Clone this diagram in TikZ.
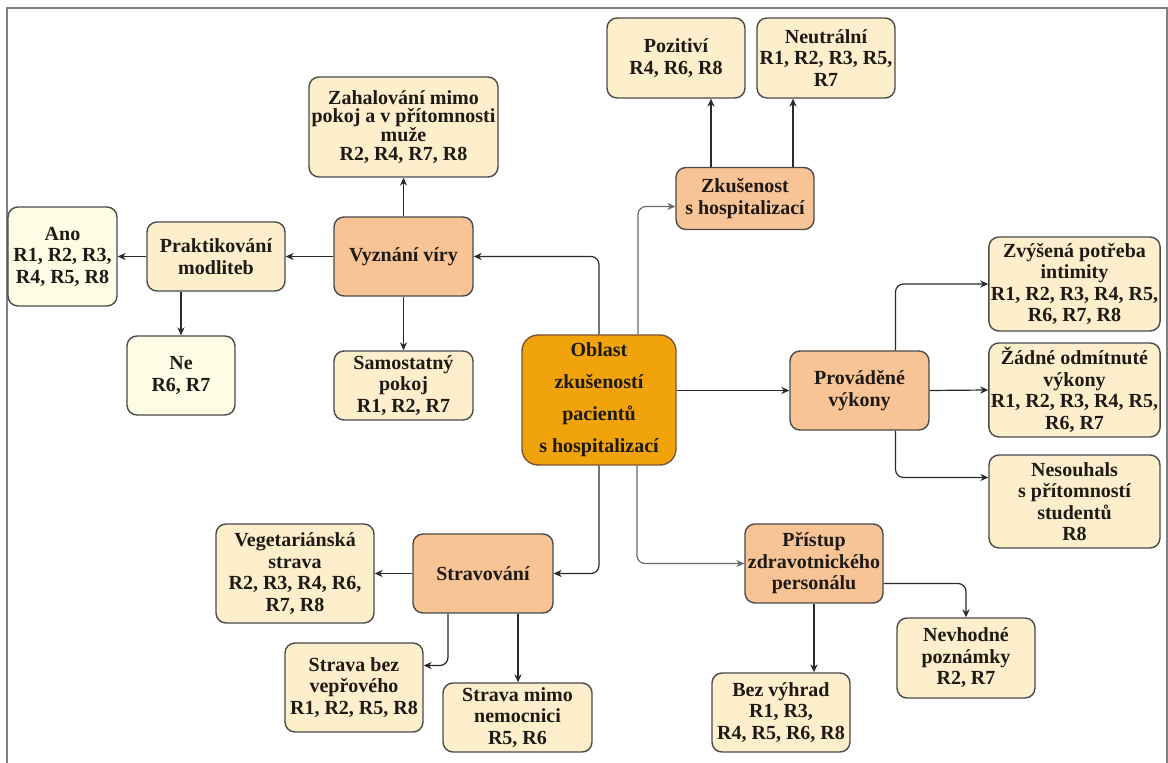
\documentclass[tikz,border=0pt]{standalone}
\usepackage{fontspec}
\setmainfont{Liberation Serif}
\usetikzlibrary{arrows.meta}

\begin{document}
\begin{tikzpicture}[x=0.5pt, y=-0.5pt,
    box/.style={draw=boxline, line width=0.7pt, rounded corners=5pt, align=center,
      text=textdark, inner sep=1pt, font=\fontsize{10}{10.75}\selectfont\bfseries},
    pale/.style={box, fill=paleyellow},
    leaf/.style={box, fill=leafyellow},
    topic/.style={box, fill=topicorange},
    hub/.style={box, fill=huborange, draw=hubline, rounded corners=8pt,
      font=\fontsize{10}{16}\selectfont\bfseries},
    link/.style={draw=linedark, line width=0.6pt, rounded corners=4pt,
      -{Stealth[length=4pt,width=3.6pt]}},
    greylink/.style={link, draw=linegrey}]
    \definecolor{paleyellow}{HTML}{FDFDE5}
    \definecolor{leafyellow}{HTML}{FDEFCB}
    \definecolor{topicorange}{HTML}{F8C496}
    \definecolor{huborange}{HTML}{F0A30A}
    \definecolor{hubline}{HTML}{7A5530}
    \definecolor{boxline}{HTML}{4A4A4A}
    \definecolor{textdark}{HTML}{1E1A16}
    \definecolor{linedark}{HTML}{2A2A2A}
    \definecolor{linegrey}{HTML}{6A6A6A}
    \definecolor{framegrey}{HTML}{808080}
    \useasboundingbox (0,0) rectangle (1168,763);
    \draw[framegrey, line width=1pt] (7,763) -- (7,8) -- (1167,8) -- (1167,763);

    \node[hub, minimum width=77pt, minimum height=65pt] (oblast) at (599,400)
      {Oblast\\zkušeností\\pacientů\\s hospitalizací};

    \node[topic, minimum width=69.5pt, minimum height=39.5pt] (vyz) at (403.5,256.5) {Vyznání víry};
    \node[leaf, minimum width=94.5pt, minimum height=50pt, font=\fontsize{10}{9.4}\selectfont\bfseries]
      (zah) at (403.5,127) {Zahalování mimo\\pokoj a v přítomnosti\\muže\\R2, R4, R7, R8};
    \node[leaf, minimum width=69.5pt, minimum height=34.5pt] (samo) at (403.5,385.5) {Samostatný\\pokoj\\R1, R2, R7};
    \node[leaf, minimum width=69pt, minimum height=34.5pt] (prak) at (216,256.5) {Praktikování\\modliteb};
    \node[pale, minimum width=54.5pt, minimum height=49.5pt] (ano) at (62.5,256.5) {Ano\\R1, R2, R3,\\R4, R5, R8};
    \node[pale, minimum width=54pt, minimum height=39.5pt] (ne) at (181,375.5) {Ne\\R6, R7};

    \node[topic, minimum width=69pt, minimum height=31pt] (zku) at (745,198.5) {Zkušenost\\s hospitalizací};
    \node[leaf, minimum width=69pt, minimum height=40pt] (poz) at (676,58) {Pozitiví\\R4, R6, R8};
    \node[leaf, minimum width=69pt, minimum height=40pt] (neu) at (826,58) {Neutrální\\R1, R2, R3, R5,\\R7};

    \node[topic, minimum width=69.5pt, minimum height=39.5pt] (prov) at (859.5,390.5) {Prováděné\\výkony};
    \node[leaf, minimum width=85.5pt, minimum height=47pt] (zvy) at (1074.5,284) {Zvýšená potřeba\\intimity\\R1, R2, R3, R4, R5,\\R6, R7, R8};
    \node[leaf, minimum width=85.5pt, minimum height=47pt] (zad) at (1074.5,390) {Žádné odmítnuté\\výkony\\R1, R2, R3, R4, R5,\\R6, R7};
    \node[leaf, minimum width=85.5pt, minimum height=46.5pt] (nes) at (1074.5,501.5) {Nesouhals\\s přítomností\\studentů\\R8};

    \node[topic, minimum width=70pt, minimum height=39.5pt] (strav) at (483,573.5) {Stravování};
    \node[leaf, minimum width=79pt, minimum height=49.5pt] (veg) at (295,573.5) {Vegetariánská\\strava\\R2, R3, R4, R6,\\R7, R8};
    \node[leaf, minimum width=69pt, minimum height=44.5pt] (bez) at (354,687.5) {Strava bez\\vepřového\\R1, R2, R5, R8};
    \node[leaf, minimum width=74.5pt, minimum height=34.5pt] (mimo) at (517.5,717.5) {Strava mimo\\nemocnici\\R5, R6};

    \node[topic, minimum width=69pt, minimum height=39.5pt] (pris) at (814,563.5) {Přístup\\zdravotnického\\personálu};
    \node[leaf, minimum width=69pt, minimum height=40pt] (nev) at (966,658) {Nevhodné\\poznámky\\R2, R7};
    \node[leaf, minimum width=69pt, minimum height=39.5pt] (vyh) at (781,712.5) {Bez výhrad\\R1, R3,\\R4, R5, R6, R8};

    \draw[link] (oblast.north) |- (vyz.east);
    \draw[greylink] ([xshift=19.5pt]oblast.north) |- ([yshift=-4pt]zku.west);
    \draw[link] (prov.west -| oblast.east) -- (prov.west);
    \draw[link] (oblast.south) |- (strav.east);
    \draw[greylink] ([xshift=19pt]oblast.south) |- (pris.west);

    \draw[link] (vyz.west) -- (prak.east);
    \draw[link] (vyz.north) -- (zah.south);
    \draw[link] (vyz.south) -- (samo.north);
    \draw[link] (prak.west) -- (ano.east);
    \draw[link] (ne.north |- prak.south) -- (ne.north);

    \draw[link] ([xshift=-17pt]zku.north) -- ([xshift=-17pt]zku.north |- poz.south);
    \draw[link] ([xshift=24pt]zku.north) -- ([xshift=24pt]zku.north |- neu.south);

    \draw[link] ([xshift=18pt]prov.north) |- (zvy.west);
    \draw[link] (prov.east) -- (zad.west);
    \draw[link] ([xshift=18pt]prov.south) |- ([yshift=12pt]nes.west);

    \draw[link] (strav.west) -- (veg.east |- strav.west);
    \draw[link] ([xshift=-17.5pt]strav.south) |- ([yshift=11pt]bez.east);
    \draw[link] ([xshift=17.5pt]strav.south) -- ([xshift=17.5pt]strav.south |- mimo.north);

    \draw[link] ([yshift=-10pt]pris.east) -| (nev.north);
    \draw[link] (pris.south) -- (pris.south |- vyh.north);
\end{tikzpicture}
\end{document}
